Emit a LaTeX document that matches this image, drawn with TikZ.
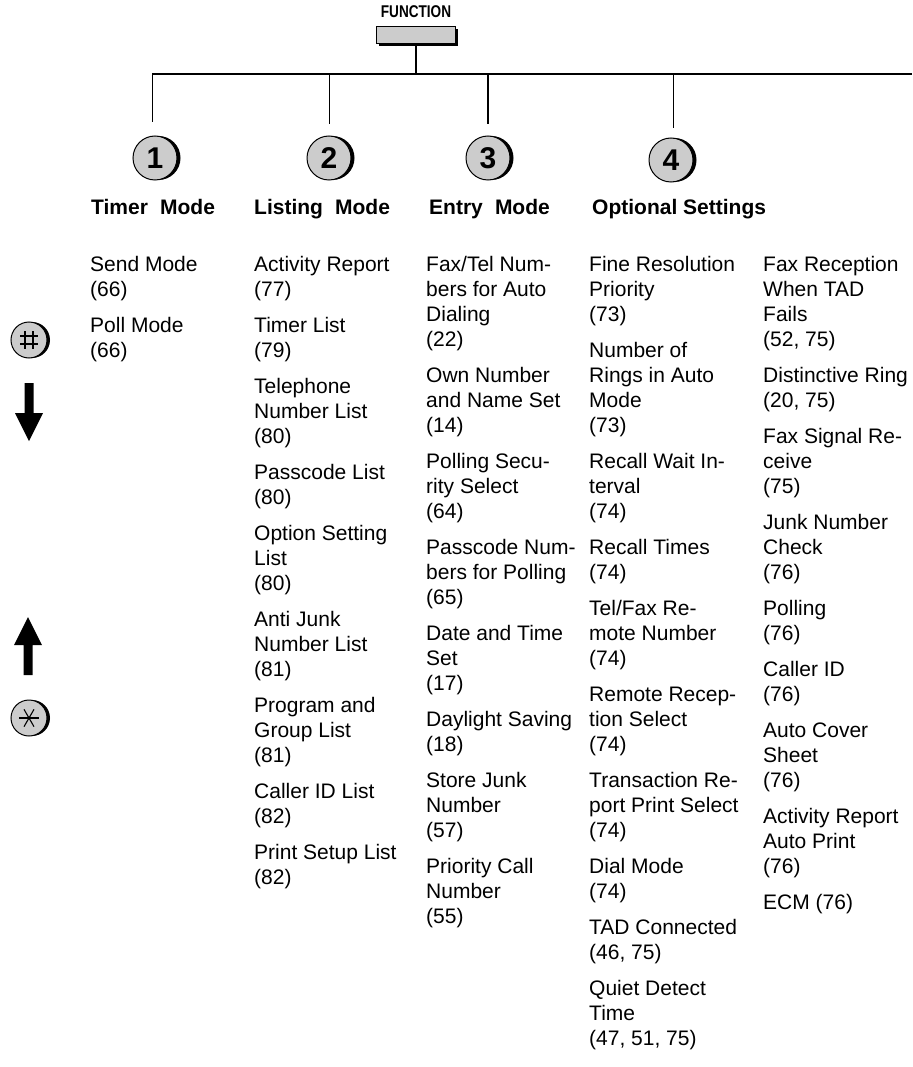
\documentclass[tikz,border=0pt]{standalone}
\usepackage{fontspec}
\setmainfont{Liberation Sans}
\newfontfamily\narrowfont[FakeStretch=0.8]{Liberation Sans}
\newcommand{\colbox}[1]{\vtop{\baselineskip=25pt\lineskiplimit=-100pt\lineskip=0pt #1}}
\newcommand{\li}[1]{\hbox{#1}}
\newcommand{\gap}{\vskip 11pt}
\begin{document}
\begin{tikzpicture}[x=1pt,y=-1pt,
  txt/.style={anchor=base west, inner sep=0pt, font=\fontsize{21}{25}\selectfont},
  hdr/.style={anchor=base west, inner sep=0pt, font=\bfseries\fontsize{21}{25}\selectfont},
  keybtn/.style={circle, draw=black, line width=1pt, fill=black!20, minimum size=44pt, inner sep=0pt,
     font=\bfseries\fontsize{30}{30}\selectfont,
     preaction={fill=black, transform canvas={xshift=3.5pt}}},
  smallkey/.style={circle, draw=black, line width=1pt, fill=black!20, minimum size=36pt, inner sep=0pt,
     preaction={fill=black, transform canvas={xshift=3pt}}},
  bus/.style={line width=2.8pt},
  branch/.style={line width=0.8pt},
  blockarrow/.style={fill=black, draw=none},
]
\useasboundingbox (0,0) rectangle (912,1067);

% FUNCTION button
\node[font=\narrowfont\bfseries\fontsize{17}{17}\selectfont, inner sep=0pt] (flabel) at (416,12) {FUNCTION};
\node[rectangle, minimum width=79pt, minimum height=17pt, fill=black!20, draw=black, line width=0.6pt, inner sep=0pt,
      preaction={fill=black, transform canvas={xshift=2.5pt, yshift=-2.5pt}}] (btn) at (416,35) {};

% bus
\coordinate (stemB) at (416,74);
\coordinate (busL) at (152,74);
\coordinate (busR) at (912,74);
\draw[line width=2pt] (btn.south) -- (stemB);
\draw[bus] (busL) -- (busR);

\coordinate (t1) at (152,74); \coordinate (e1) at (152,122);
\coordinate (t2) at (329,74); \coordinate (e2) at (329,124);
\coordinate (t3) at (488,74); \coordinate (e3) at (488,124);
\coordinate (t4) at (673,74); \coordinate (e4) at (673,128);
\draw[branch] (t1) -- (e1);
\draw[branch] (t2) -- (e2);
\draw[line width=1.6pt] (t3) -- (e3);
\draw[branch] (t4) -- (e4);

% number keys
\node[keybtn] (k1) at (155,158) {1};
\node[keybtn] (k2) at (329,158) {2};
\node[keybtn] (k3) at (488,158) {3};
\node[keybtn] (k4) at (671,160) {4};

% headers
\node[hdr] (h1) at (91,215) {Timer\hspace{0.3em} Mode};
\node[hdr] (h2) at (254,215) {Listing\hspace{0.3em} Mode};
\node[hdr] (h3) at (429,215) {Entry\hspace{0.3em} Mode};
\node[hdr] (h4) at (592,215) {Optional Settings};

% columns
\node[txt] (c1) at (90,271) {\colbox{\li{Send Mode}\li{(66)}\gap\li{Poll Mode}\li{(66)}}};
\node[txt] (c2) at (254,271) {\colbox{%
 \li{Activity Report}\li{(77)}\gap
 \li{Timer List}\li{(79)}\gap
 \li{Telephone}\li{Number List}\li{(80)}\gap
 \li{Passcode List}\li{(80)}\gap
 \li{Option Setting}\li{List}\li{(80)}\gap
 \li{Anti Junk}\li{Number List}\li{(81)}\gap
 \li{Program and}\li{Group List}\li{(81)}\gap
 \li{Caller ID List}\li{(82)}\gap
 \li{Print Setup List}\li{(82)}}};
\node[txt] (c3) at (426,271) {\colbox{%
 \li{Fax/Tel Num-}\li{bers for Auto}\li{Dialing}\li{(22)}\gap
 \li{Own Number}\li{and Name Set}\li{(14)}\gap
 \li{Polling Secu-}\li{rity Select}\li{(64)}\gap
 \li{Passcode Num-}\li{bers for Polling}\li{(65)}\gap
 \li{Date and Time}\li{Set}\li{(17)}\gap
 \li{Daylight Saving}\li{(18)}\gap
 \li{Store Junk}\li{Number}\li{(57)}\gap
 \li{Priority Call}\li{Number}\li{(55)}}};
\node[txt] (c4) at (589,271) {\colbox{%
 \li{Fine Resolution}\li{Priority}\li{(73)}\gap
 \li{Number of}\li{Rings in Auto}\li{Mode}\li{(73)}\gap
 \li{Recall Wait In-}\li{terval}\li{(74)}\gap
 \li{Recall Times}\li{(74)}\gap
 \li{Tel/Fax Re-}\li{mote Number}\li{(74)}\gap
 \li{Remote Recep-}\li{tion Select}\li{(74)}\gap
 \li{Transaction Re-}\li{port Print Select}\li{(74)}\gap
 \li{Dial Mode}\li{(74)}\gap
 \li{TAD Connected}\li{(46, 75)}\gap
 \li{Quiet Detect}\li{Time}\li{(47, 51, 75)}}};
\node[txt] (c5) at (763,271) {\colbox{%
 \li{Fax Reception}\li{When TAD}\li{Fails}\li{(52, 75)}\gap
 \li{Distinctive Ring}\li{(20, 75)}\gap
 \li{Fax Signal Re-}\li{ceive}\li{(75)}\gap
 \li{Junk Number}\li{Check}\li{(76)}\gap
 \li{Polling}\li{(76)}\gap
 \li{Caller ID}\li{(76)}\gap
 \li{Auto Cover}\li{Sheet}\li{(76)}\gap
 \li{Activity Report}\li{Auto Print}\li{(76)}\gap
 \li{ECM (76)}}};

% hash key
\node[smallkey] (hash) at (29,340) {};
\draw[line width=1.6pt] ([shift={(-4,-9)}]hash.center) -- ([shift={(-4,9)}]hash.center);
\draw[line width=1.6pt] ([shift={(4,-9)}]hash.center) -- ([shift={(4,9)}]hash.center);
\draw[line width=1.6pt] ([shift={(-9,-4)}]hash.center) -- ([shift={(9,-4)}]hash.center);
\draw[line width=1.6pt] ([shift={(-9,4)}]hash.center) -- ([shift={(9,4)}]hash.center);

% star key
\node[smallkey] (star) at (29,718) {};
\draw[line width=1.1pt] ([shift={(-10,0)}]star.center) -- ([shift={(10,0)}]star.center);
\draw[line width=1.1pt] ([shift={(120:10)}]star.center) -- ([shift={(-60:10)}]star.center);
\draw[line width=1.1pt] ([shift={(60:10)}]star.center) -- ([shift={(-120:10)}]star.center);

% block arrows
\coordinate (dn) at (29,383);
\fill[blockarrow] ([shift={(-4.5,0)}]dn) -- ([shift={(4.5,0)}]dn) -- ([shift={(4.5,30)}]dn) -- ([shift={(14,30)}]dn)
   -- ([shift={(0,58)}]dn) -- ([shift={(-14,30)}]dn) -- ([shift={(-4.5,30)}]dn) -- cycle;
\coordinate (up) at (28,617);
\fill[blockarrow] (up) -- ([shift={(14,28)}]up) -- ([shift={(4.5,28)}]up) -- ([shift={(4.5,58)}]up)
   -- ([shift={(-4.5,58)}]up) -- ([shift={(-4.5,28)}]up) -- ([shift={(-14,28)}]up) -- cycle;
\end{tikzpicture}
\end{document}
